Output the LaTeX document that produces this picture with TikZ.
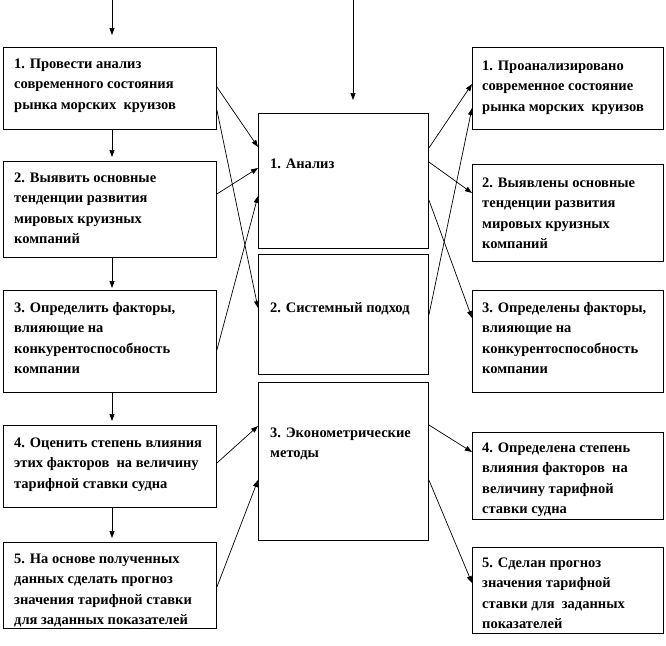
\documentclass[tikz,border=0pt]{standalone}
\usepackage{fontspec}
\setmainfont{Liberation Serif}
\usetikzlibrary{arrows.meta,calc}
\tikzset{
  box/.style={draw, line width=0.9pt, anchor=north west, inner sep=0pt},
  txt/.style={anchor=north west, inner sep=0pt, align=left,
    font=\fontsize{14.5}{20.5}\selectfont\bfseries},
  arr/.style={line width=0.7pt, -{Triangle[length=7pt,width=5pt]}}
}
\newcommand\fl{\rule{0pt}{11pt}}
\newcommand\dsp{\hspace{3.6pt}}
\begin{document}
\begin{tikzpicture}[x=1pt,y=-1pt]
\useasboundingbox (0,0) rectangle (666,645);
% left column
\node[box, minimum width=213pt, minimum height=82pt]  (L1) at (3,47) {};
\node[box, minimum width=213pt, minimum height=96pt]  (L2) at (3,161) {};
\node[box, minimum width=213pt, minimum height=102pt] (L3) at (3,290) {};
\node[box, minimum width=213pt, minimum height=82pt]  (L4) at (3,425) {};
\node[box, minimum width=213pt, minimum height=86pt]  (L5) at (3,542) {};
% center column
\node[box, minimum width=170pt, minimum height=135pt] (C1) at (258,113) {};
\node[box, minimum width=170pt, minimum height=120pt] (C2) at (258,254) {};
\node[box, minimum width=170pt, minimum height=158pt] (C3) at (258,382) {};
% right column
\node[box, minimum width=191pt, minimum height=82pt]  (R1) at (472,47) {};
\node[box, minimum width=191pt, minimum height=97pt]  (R2) at (472,164) {};
\node[box, minimum width=191pt, minimum height=102pt] (R3) at (472,290) {};
\node[box, minimum width=191pt, minimum height=87pt]  (R4) at (472,432) {};
\node[box, minimum width=191pt, minimum height=86pt]  (R5) at (472,547) {};

% texts
\node[txt] (L1t) at (14,57) {\fl 1. Провести анализ\\современного состояния\\рынка морских\dsp{} круизов};
\node[txt] (L2t) at (14,171) {\fl 2. Выявить основные\\тенденции развития\\мировых круизных\\компаний};
\node[txt] (L3t) at (14,301) {\fl 3. Определить факторы,\\влияющие на\\конкурентоспособность\\компании};
\node[txt] (L4t) at (14,436) {\fl 4. Оценить степень влияния\\этих факторов\dsp{} на величину\\тарифной ставки судна};
\node[txt] (L5t) at (14,552) {\fl 5. На основе полученных\\данных сделать прогноз\\значения тарифной ставки\\для заданных показателей};

\node[txt] (C1t) at (270,157) {\fl 1. Анализ};
\node[txt] (C2t) at (270,301) {\fl 2. Системный подход};
\node[txt] (C3t) at (270,426) {\fl 3. Эконометрические\\методы};

\node[txt] (R1t) at (482,59) {\fl 1. Проанализировано\\современное состояние\\рынка морских\dsp{} круизов};
\node[txt] (R2t) at (482,176) {\fl 2. Выявлены основные\\тенденции развития\\мировых круизных\\компаний};
\node[txt] (R3t) at (482,301) {\fl 3. Определены факторы,\\влияющие на\\конкурентоспособность\\компании};
\node[txt] (R4t) at (482,441) {\fl 4. Определена степень\\влияния факторов\dsp{} на\\величину тарифной\\ставки судна};
\node[txt] (R5t) at (482,556) {\fl 5. Сделан прогноз\\значения тарифной\\ставки для\dsp{} заданных\\показателей};

% vertical arrows
\coordinate (inL) at (112,0);
\coordinate (inC) at (353,0);
\draw[arr, shorten >=12pt] (inL) -- (inL |- L1.north);
\draw[arr, shorten >=13pt] (inC) -- (inC |- C1.north);
\draw[arr, shorten >=4pt] (inL |- L1.south) -- (inL |- L2.north);
\draw[arr, shorten >=2pt] (inL |- L2.south) -- (inL |- L3.north);
\draw[arr, shorten >=4pt] (inL |- L3.south) -- (inL |- L4.north);
\draw[arr, shorten >=4pt] (inL |- L4.south) -- (inL |- L5.north);

% left -> center
\draw[arr] ($(L1.north east)+(0,40)$) -- ($(C1.north west)+(0,34)$);
\draw[arr] ($(L1.north east)+(0,63)$) -- ($(C2.north west)+(0,54)$);
\draw[arr] ($(L2.north east)+(0,33)$) -- ($(C1.north west)+(0,55)$);
\draw[arr] ($(L3.north east)+(0,60)$) -- ($(C1.north west)+(0,83)$);
\draw[arr] ($(L4.north east)+(0,38)$) -- ($(C3.north west)+(0,44)$);
\draw[arr] ($(L5.north east)+(0,45)$) -- ($(C3.north west)+(0,98)$);

% center -> right
\draw[arr] ($(C1.north east)+(0,35)$) -- ($(R1.north west)+(0,37)$);
\draw[arr] ($(C1.north east)+(0,49)$) -- ($(R2.north west)+(0,29)$);
\draw[arr] ($(C1.north east)+(0,87)$) -- ($(R3.north west)+(0,28)$);
\draw[arr] ($(C2.north east)+(0,61)$) -- ($(R1.north west)+(0,61)$);
\draw[arr] ($(C3.north east)+(0,43)$) -- ($(R4.north west)+(0,20)$);
\draw[arr] ($(C3.north east)+(0,98)$) -- ($(R5.north west)+(0,36)$);
\end{tikzpicture}
\end{document}
